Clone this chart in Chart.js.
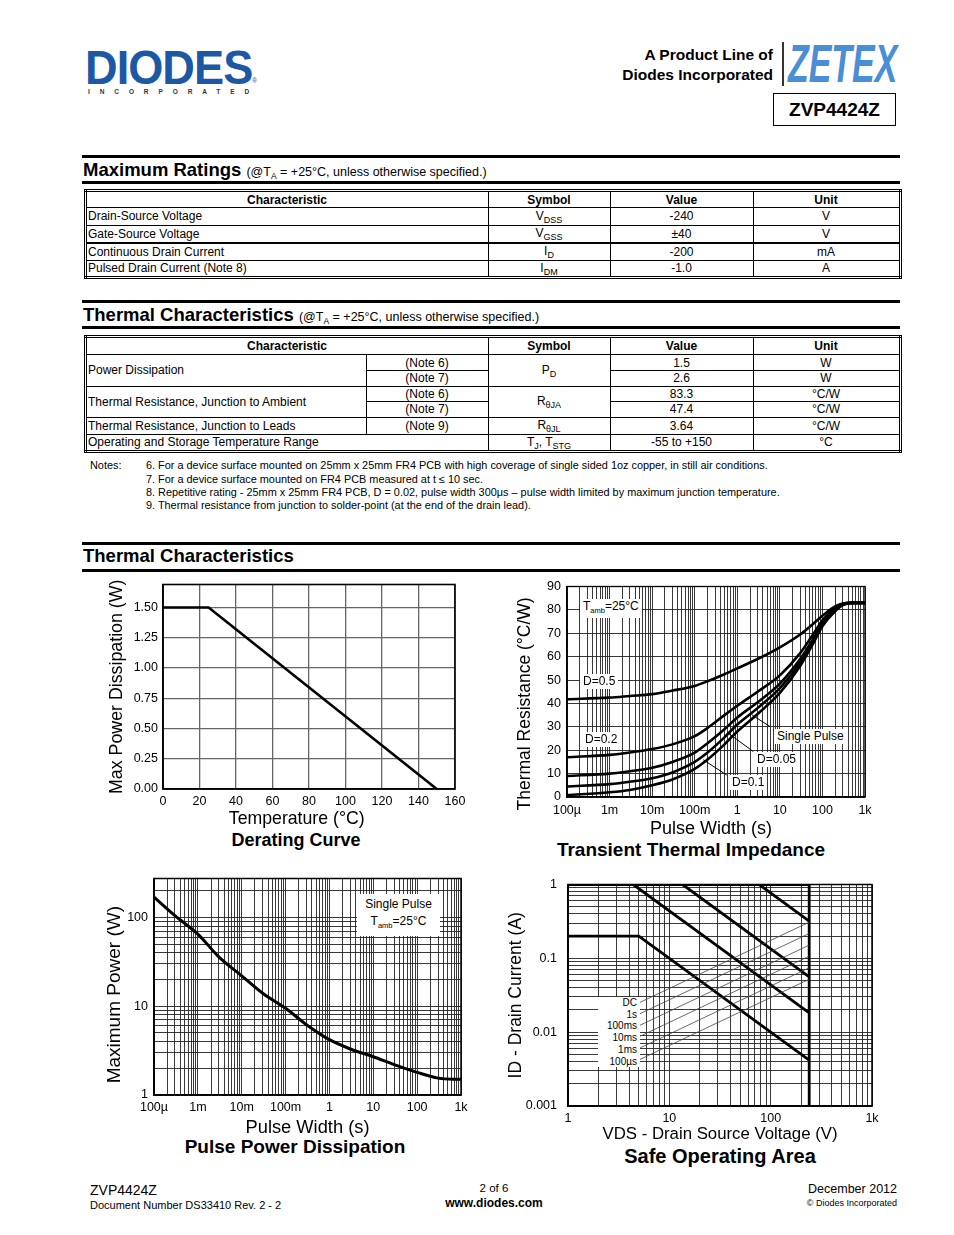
<!DOCTYPE html>
<html>
<head>
<meta charset="utf-8">
<script src="https://cdn.jsdelivr.net/npm/chart.js@4.4.1/dist/chart.umd.min.js"></script>
<style>
body{margin:0;background:#fff;font-family:"Liberation Sans",Arial,sans-serif;color:#000}
#page{position:relative;width:954px;height:1235px;overflow:hidden;background:#fff}
.a{position:absolute;white-space:nowrap}
.rule{position:absolute;left:82px;width:818px;background:#000}
.sec{position:absolute;left:83px;font-weight:bold;font-size:18.5px;line-height:20px;white-space:nowrap}
.sec span{font-weight:normal;font-size:12.5px}
canvas{position:absolute;z-index:1}
table.t{position:absolute;border-collapse:collapse;border:3px double #000;table-layout:fixed;font-size:12px}
table.t td,table.t th{border:1px solid #000;padding:0 2px 0 1px;line-height:14px;text-align:center;overflow:hidden;white-space:nowrap}
table.t th{font-weight:bold}
table.t td.l{text-align:left}
.sb{font-size:9px;position:relative;top:3px}
.note{position:absolute;font-size:10.9px;line-height:12px;white-space:nowrap}
.cap{position:absolute;font-weight:bold;text-align:center;white-space:nowrap}
.lab{position:absolute;z-index:2;background:#fff;font-size:12px;line-height:15px;white-space:nowrap;padding:0 3px}
.lab sub{font-size:7.5px;vertical-align:-3px}
.soa{position:absolute;z-index:2;background:#fff;font-size:10px;text-align:right;line-height:11.7px}
</style>
</head>
<body>
<div id="page">

<!-- header -->
<div class="a" style="left:85px;top:40px;font-size:47.5px;font-weight:bold;color:#1c58a4;transform:scaleX(0.95);transform-origin:0 0;letter-spacing:-1px">DIODES</div>
<div class="a" style="left:252px;top:77px;font-size:7px;color:#1c58a4">®</div>
<div class="a" style="left:88px;top:88px;font-size:6.5px;font-weight:bold;letter-spacing:9.9px;color:#333">INCORPORATED</div>

<div class="a" style="right:181px;top:45px;font-size:15.5px;font-weight:bold;line-height:20px;text-align:right">A Product Line of<br>Diodes Incorporated</div>
<div class="a" style="left:782px;top:42px;width:2px;height:44px;background:#333"></div>
<div class="a" style="left:788px;top:33px;font-size:53px;font-weight:bold;font-style:italic;color:#4a8ed6;transform:scaleX(0.64);transform-origin:0 0">ZETEX</div>
<div class="a" style="left:773px;top:93px;width:121px;height:31px;border:1.5px solid #000;font-size:19px;font-weight:bold;text-align:center;line-height:31px">ZVP4424Z</div>

<!-- maximum ratings -->
<div class="rule" style="top:155px;height:3px"></div>
<div class="sec" style="top:160px">Maximum Ratings <span>(@T<span class="sb" style="font-size:8.5px">A</span> = +25°C, unless otherwise specified.)</span></div>
<div class="rule" style="top:181px;height:3px"></div>

<table class="t" style="left:84px;top:189px;width:815px">
<colgroup><col style="width:403px"><col style="width:122px"><col style="width:143px"><col style="width:147px"></colgroup>
<tr style="height:17px"><th>Characteristic</th><th>Symbol</th><th>Value</th><th>Unit</th></tr>
<tr style="height:17.5px"><td class="l">Drain-Source Voltage</td><td>V<span class="sb">DSS</span></td><td>-240</td><td>V</td></tr>
<tr style="height:17.5px"><td class="l">Gate-Source Voltage</td><td>V<span class="sb">GSS</span></td><td>±40</td><td>V</td></tr>
<tr style="height:17.5px;border-top:2px solid #000"><td class="l">Continuous Drain Current</td><td>I<span class="sb">D</span></td><td>-200</td><td>mA</td></tr>
<tr style="height:17.5px"><td class="l">Pulsed Drain Current (Note 8)</td><td>I<span class="sb">DM</span></td><td>-1.0</td><td>A</td></tr>
</table>

<!-- thermal characteristics table -->
<div class="rule" style="top:300px;height:3px"></div>
<div class="sec" style="top:305px">Thermal Characteristics <span>(@T<span class="sb" style="font-size:8.5px">A</span> = +25°C, unless otherwise specified.)</span></div>
<div class="rule" style="top:326px;height:3px"></div>

<table class="t" style="left:84px;top:335px;width:815px">
<colgroup><col style="width:281px"><col style="width:122px"><col style="width:122px"><col style="width:143px"><col style="width:147px"></colgroup>
<tr style="height:18px"><th colspan="2">Characteristic</th><th>Symbol</th><th>Value</th><th>Unit</th></tr>
<tr style="height:16px"><td class="l" rowspan="2">Power Dissipation</td><td>(Note 6)</td><td rowspan="2">P<span class="sb">D</span></td><td>1.5</td><td>W</td></tr>
<tr style="height:15.5px"><td>(Note 7)</td><td>2.6</td><td>W</td></tr>
<tr style="height:15.5px"><td class="l" rowspan="2">Thermal Resistance, Junction to Ambient</td><td>(Note 6)</td><td rowspan="2">R<span class="sb">θJA</span></td><td>83.3</td><td>°C/W</td></tr>
<tr style="height:15.5px"><td>(Note 7)</td><td>47.4</td><td>°C/W</td></tr>
<tr style="height:17px"><td class="l">Thermal Resistance, Junction to Leads</td><td>(Note 9)</td><td>R<span class="sb">θJL</span></td><td>3.64</td><td>°C/W</td></tr>
<tr style="height:17px"><td class="l" colspan="2">Operating and Storage Temperature Range</td><td>T<span class="sb">J</span>, T<span class="sb">STG</span></td><td>-55 to +150</td><td>°C</td></tr>
</table>

<div class="note" style="left:90px;top:459px">Notes:</div>
<div class="note" style="left:146px;top:459px">6. For a device surface mounted on 25mm x 25mm FR4 PCB with high coverage of single sided 1oz copper, in still air conditions.</div>
<div class="note" style="left:146px;top:473px">7. For a device surface mounted on FR4 PCB measured at t ≤ 10 sec.</div>
<div class="note" style="left:146px;top:486px">8. Repetitive rating - 25mm x 25mm FR4 PCB, D = 0.02, pulse width 300μs – pulse width limited by maximum junction temperature.</div>
<div class="note" style="left:146px;top:499px">9. Thermal resistance from junction to solder-point (at the end of the drain lead).</div>

<!-- graphs section -->
<div class="rule" style="top:542px;height:3px"></div>
<div class="sec" style="top:546px">Thermal Characteristics</div>
<div class="rule" style="top:569px;height:3px"></div>

<canvas id="c1" width="380" height="259" style="left:100px;top:572px"></canvas>
<canvas id="c2" width="375" height="269" style="left:505px;top:573px"></canvas>
<canvas id="c3" width="375" height="274" style="left:100px;top:865px"></canvas>
<canvas id="c4" width="390" height="281" style="left:500px;top:866px"></canvas>

<div class="cap" style="left:146px;top:830px;width:300px;font-size:18px">Derating Curve</div>
<div class="cap" style="left:541px;top:839px;width:300px;font-size:19px">Transient Thermal Impedance</div>
<div class="cap" style="left:145px;top:1136px;width:300px;font-size:19px">Pulse Power Dissipation</div>
<div class="cap" style="left:570px;top:1145px;width:300px;font-size:20px">Safe Operating Area</div>

<!-- transient thermal impedance labels -->
<div class="lab" style="left:580px;top:599px">T<sub>amb</sub>=25°C</div>
<div class="lab" style="left:580px;top:674px">D=0.5</div>
<div class="lab" style="left:582px;top:732px">D=0.2</div>
<div class="lab" style="left:774px;top:729px">Single Pulse</div>
<div class="lab" style="left:754px;top:752px">D=0.05</div>
<div class="lab" style="left:729px;top:775px">D=0.1</div>

<!-- pulse power label -->
<div class="lab" style="left:357px;top:894px;width:77px;text-align:center;line-height:17px;padding:2px 3px">Single Pulse<br>T<sub>amb</sub>=25°C</div>

<!-- SOA labels -->
<div class="soa" style="left:598px;top:997px;width:39px;padding-right:3px">DC<br>1s<br>100ms<br>10ms<br>1ms<br>100µs</div>

<!-- footer -->
<div class="a" style="left:90px;top:1182px;font-size:14px">ZVP4424Z</div>
<div class="a" style="left:90px;top:1199px;font-size:11px">Document Number DS33410 Rev. 2 - 2</div>
<div class="a" style="left:394px;top:1182px;width:200px;text-align:center;font-size:11.5px">2 of 6</div>
<div class="a" style="left:394px;top:1196px;width:200px;text-align:center;font-size:12px;font-weight:bold">www.diodes.com</div>
<div class="a" style="right:57px;top:1182px;font-size:12.5px">December 2012</div>
<div class="a" style="right:57px;top:1198px;font-size:9px">© Diodes Incorporated</div>

</div>
<script>
// ---- data ----
// derating curve
const deratingTemp = [0, 25, 150];
const deratingPower = [1.5, 1.5, 0];

// transient thermal impedance, read at these pulse widths (s)
const ttiWidth = [1e-4, 1e-3, 3e-3, 1e-2, 3e-2, 0.1, 0.2, 0.5, 1, 3, 10, 30, 60, 100, 200, 300, 500, 1000];
const ttiD05 = [41.8, 42.5, 43.2, 44, 45.5, 47.5, 49.5, 52.5, 55, 59, 64, 69.5, 74, 77.5, 81.5, 82.7, 83, 83];
const ttiD02 = [17, 18, 19, 20.5, 22.5, 26, 29.5, 35, 39, 45, 52, 61.5, 69.5, 75.5, 81, 82.6, 83, 83];
const ttiD01 = [9, 10, 11, 12.5, 15, 19, 23, 29, 34, 40.5, 48.5, 59, 67.5, 74.5, 80.5, 82.5, 83, 83];
const ttiD005 = [4.5, 5.5, 6.5, 8, 10.5, 15, 19, 25.5, 31, 38, 46.5, 57.5, 66.5, 73.5, 80, 82.3, 83, 83];
const ttiSingle = [0.8, 2, 3, 5, 7.5, 12, 16, 22.5, 28, 35.5, 44.5, 56, 65.5, 73, 79.5, 82, 83, 83];
// leader lines from the labels to the curves [x1,y1,x2,y2]
const ttiLeaders = [[5.87, 30.1, 2.22, 35.1], [2.38, 19.4, 0.615, 27.3], [0.564, 9.4, 0.159, 15.9]];
const timeTickValues = [1e-4, 1e-3, 1e-2, 1e-1, 1, 10, 100, 1000];
const timeTickLabels = ['100µ', '1m', '10m', '100m', '1', '10', '100', '1k'];

// pulse power dissipation
const ppWidth = [1e-4, 3e-4, 1e-3, 3e-3, 1e-2, 3e-2, 0.1, 0.3, 1, 3, 10, 30, 100, 300, 1000];
const ppPower = [170, 105, 65, 36, 22, 14, 9.5, 6.2, 4.2, 3.3, 2.7, 2.2, 1.8, 1.55, 1.5];
const ppTickValues = [1, 10, 100];
const ppTickLabels = ['1', '10', '100'];

// safe operating area
const soaLimitV = [1, 240];
const soaLimitI = [1, 1];
const soaMaxV = [240, 240];
const soaMaxI = [0.001, 1];
const soaDcV = [1, 5, 240];
const soaDcI = [0.2, 0.2, 0.00417];
const soa1sV = [4.4, 240];
const soa1sI = [1, 0.0183];
const soa100msV = [13.5, 240];
const soa100msI = [1, 0.056];
const soa10msV = [77, 240];
const soa10msI = [1, 0.32];
const soaLeaderV = [5, 240];
const soaLeaderI = [[0.0249, 0.309], [0.0175, 0.217], [0.0122, 0.151], [0.00865, 0.107], [0.006, 0.0745], [0.0042, 0.052]];
const soaXTickValues = [1, 10, 100, 1000];
const soaXTickLabels = ['1', '10', '100', '1k'];
const soaYTickValues = [0.001, 0.01, 0.1, 1];
const soaYTickLabels = ['0.001', '0.01', '0.1', '1'];

// ---- helpers ----
Chart.defaults.font.family = '"Liberation Sans", Arial, sans-serif';
Chart.defaults.color = '#000';

function pts(xs, ys){
    return xs.map((x, i) => ({x: x, y: ys[i]}));
}

// every 1..9 x 10^n line between min and max
function logGrid(min, max){
    let out = [];
    for(let e = Math.floor(Math.log10(min)); e <= Math.ceil(Math.log10(max)); e++){
        for(let m = 1; m < 10; m++){
            let v = +(m * Math.pow(10, e)).toPrecision(6);
            if(v >= min * 0.999 && v <= max * 1.001) out.push(v);
        }
    }
    return out;
}

function labelFor(values, labels){
    return function(v){
        for(let i = 0; i < values.length; i++){
            if(Math.abs(v / values[i] - 1) < 1e-6) return labels[i];
        }
        return '';
    };
}

function curve(data, width){
    return {data: data, borderColor: '#000', borderWidth: width, pointRadius: 0,
            cubicInterpolationMode: 'monotone', fill: false};
}

function thin(data, color, width){
    return {data: data, borderColor: color, borderWidth: width, pointRadius: 0, tension: 0, fill: false};
}

const framePlugin = {
    id: 'frame',
    beforeDatasetsDraw(chart, args, opts){
        const a = chart.chartArea, ctx = chart.ctx;
        ctx.save();
        ctx.strokeStyle = '#000';
        ctx.lineWidth = opts.width || 1.5;
        ctx.strokeRect(a.left, a.top, a.right - a.left, a.bottom - a.top);
        ctx.restore();
    }
};

function baseOptions(pad, frameW){
    return {
        responsive: false,
        animation: false,
        events: [],
        layout: {padding: pad},
        plugins: {legend: {display: false}, tooltip: {enabled: false}, frame: {width: frameW}},
        scales: {}
    };
}

// ---- derating curve ----
let opt1 = baseOptions({left: 0, top: 0, right: 25, bottom: 0}, 1.6);
opt1.scales.x = {
    type: 'linear', min: 0, max: 160,
    ticks: {stepSize: 20, padding: 5, font: {size: 12.5}, maxRotation: 0},
    grid: {color: '#666', lineWidth: 1.3, drawTicks: false},
    border: {color: '#000', width: 1.6},
    title: {display: true, text: 'Temperature (°C)     ', font: {size: 17.7}, padding: {top: 0, bottom: 1.4}},
    afterFit: s => { s.height = 42; }
};
opt1.scales.y = {
    type: 'linear', min: 0, max: 1.69,
    ticks: {stepSize: 0.25, padding: 5, font: {size: 12.5}, includeBounds: false,
            callback: v => v.toFixed(2)},
    grid: {color: '#666', lineWidth: 1.3, drawTicks: false},
    border: {color: '#000', width: 1.6},
    title: {display: true, text: 'Max Power Dissipation (W)', font: {size: 17.8}, padding: {top: 6.3, bottom: 0}},
    afterFit: s => { s.width = 63; }
};
new Chart(document.getElementById('c1'), {
    type: 'line',
    data: {datasets: [thin(pts(deratingTemp, deratingPower), '#000', 2.6)]},
    options: opt1,
    plugins: [framePlugin]
});

// ---- transient thermal impedance ----
let opt2 = baseOptions({left: 0, top: 0, right: 15, bottom: 0}, 1.3);
opt2.scales.x = {
    type: 'logarithmic', min: 1e-4, max: 1000,
    afterBuildTicks: s => { s.ticks = logGrid(1e-4, 1000).map(v => ({value: v})); },
    ticks: {autoSkip: false, maxRotation: 0, padding: 6, font: {size: 12.5},
            callback: labelFor(timeTickValues, timeTickLabels)},
    grid: {color: '#222', lineWidth: 0.9, drawTicks: false},
    border: {color: '#000', width: 1.3},
    title: {display: true, text: 'Pulse Width (s)  ', font: {size: 18}, padding: {top: 0, bottom: 2.2}},
    afterFit: s => { s.height = 45; }
};
opt2.scales.y = {
    type: 'linear', min: 0, max: 90,
    ticks: {stepSize: 5, padding: 6, font: {size: 12.5}, callback: v => (v % 10 === 0 ? v : '')},
    grid: {color: '#222', lineWidth: 0.9, drawTicks: false},
    border: {color: '#000', width: 1.3},
    title: {display: true, text: 'Thermal Resistance (°C/W)     ', font: {size: 17.5}, padding: {top: 9.5, bottom: 0}},
    afterFit: s => { s.width = 62; }
};
let ttiSets = [
    curve(pts(ttiWidth, ttiD05), 2.6),
    curve(pts(ttiWidth, ttiD02), 2.6),
    curve(pts(ttiWidth, ttiD01), 2.6),
    curve(pts(ttiWidth, ttiD005), 2.6),
    curve(pts(ttiWidth, ttiSingle), 2.6)
];
for(let l of ttiLeaders){
    ttiSets.push(thin([{x: l[0], y: l[1]}, {x: l[2], y: l[3]}], '#000', 1));
}
new Chart(document.getElementById('c2'), {
    type: 'line',
    data: {datasets: ttiSets},
    options: opt2,
    plugins: [framePlugin]
});

// ---- pulse power dissipation ----
let opt3 = baseOptions({left: 0, top: 0, right: 14, bottom: 0}, 1.5);
opt3.scales.x = {
    type: 'logarithmic', min: 1e-4, max: 1000,
    afterBuildTicks: s => { s.ticks = logGrid(1e-4, 1000).map(v => ({value: v})); },
    ticks: {autoSkip: false, maxRotation: 0, padding: 5, font: {size: 12.5},
            callback: labelFor(timeTickValues, timeTickLabels)},
    grid: {color: '#222', lineWidth: 0.9, drawTicks: false},
    border: {color: '#000', width: 1.5},
    title: {display: true, text: 'Pulse Width (s)', font: {size: 18.3}, padding: {top: 0, bottom: 0}},
    afterFit: s => { s.height = 44; }
};
opt3.scales.y = {
    type: 'logarithmic', min: 1, max: 275,
    afterBuildTicks: s => { s.ticks = logGrid(1, 275).map(v => ({value: v})); },
    ticks: {autoSkip: false, padding: 6, font: {size: 12.5}, callback: labelFor(ppTickValues, ppTickLabels)},
    grid: {color: '#222', lineWidth: 0.9, drawTicks: false},
    border: {color: '#000', width: 1.5},
    title: {display: true, text: 'Maximum Power (W)   ', font: {size: 19}, padding: {top: 3.6, bottom: 0}},
    afterFit: s => { s.width = 54; }
};
new Chart(document.getElementById('c3'), {
    type: 'line',
    data: {datasets: [curve(pts(ppWidth, ppPower), 3)]},
    options: opt3,
    plugins: [framePlugin]
});

// ---- safe operating area ----
let opt4 = baseOptions({left: 0, top: 0, right: 18, bottom: 0}, 1.5);
opt4.scales.x = {
    type: 'logarithmic', min: 1, max: 1000,
    afterBuildTicks: s => { s.ticks = logGrid(1, 1000).map(v => ({value: v})); },
    ticks: {autoSkip: false, maxRotation: 0, padding: 5, font: {size: 12.5},
            callback: labelFor(soaXTickValues, soaXTickLabels)},
    grid: {color: '#222', lineWidth: 0.9, drawTicks: false},
    border: {color: '#000', width: 1.5},
    title: {display: true, text: 'VDS - Drain Source Voltage (V)', font: {size: 16.8}, padding: {top: 0, bottom: 2.9}},
    afterFit: s => { s.height = 41; }
};
opt4.scales.y = {
    type: 'logarithmic', min: 0.001, max: 1,
    afterBuildTicks: s => { s.ticks = logGrid(0.001, 1).map(v => ({value: v})); },
    ticks: {autoSkip: false, padding: 11, font: {size: 12.5}, callback: labelFor(soaYTickValues, soaYTickLabels)},
    grid: {color: '#222', lineWidth: 0.9, drawTicks: false},
    border: {color: '#000', width: 1.5},
    title: {display: true, text: 'ID - Drain Current (A)', font: {size: 17.5}, padding: {top: 5.5, bottom: 0}},
    afterFit: s => { s.width = 68; }
};
let soaSets = [];
for(let l of soaLeaderI){
    soaSets.push(thin(pts(soaLeaderV, l), '#444', 0.8));
}
soaSets.push(thin(pts(soaLimitV, soaLimitI), '#000', 2.8));
soaSets.push(thin(pts(soaMaxV, soaMaxI), '#000', 2.8));
soaSets.push(thin(pts(soaDcV, soaDcI), '#000', 2.8));
soaSets.push(thin(pts(soa1sV, soa1sI), '#000', 2.8));
soaSets.push(thin(pts(soa100msV, soa100msI), '#000', 2.8));
soaSets.push(thin(pts(soa10msV, soa10msI), '#000', 2.8));
new Chart(document.getElementById('c4'), {
    type: 'line',
    data: {datasets: soaSets},
    options: opt4,
    plugins: [framePlugin]
});
</script>
</body>
</html>
